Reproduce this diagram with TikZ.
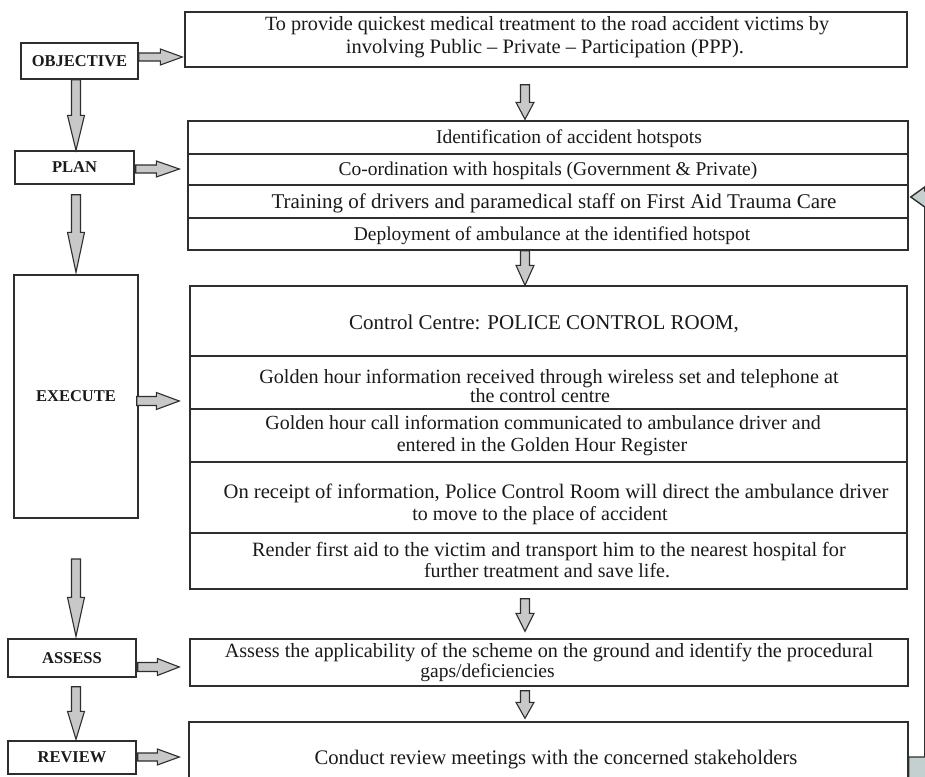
\documentclass[tikz,border=0pt]{standalone}
\usepackage{fontspec}
\setmainfont{Liberation Serif}
\usetikzlibrary{calc}

\definecolor{linec}{HTML}{2E2E2E}
\definecolor{inkc}{HTML}{1A1A1A}
\definecolor{arrowfill}{HTML}{C8C8C8}
\definecolor{loopfill}{HTML}{C4D0D0}

\tikzset{
  box/.style={draw=linec, line width=1.4pt, fill=white, inner sep=0pt, anchor=center},
  stage/.style={box, text=inkc, font=\fontsize{16.5}{18}\selectfont\bfseries},
  txt/.style={inner sep=0pt, anchor=base, text=inkc, font=\fontsize{#1}{24}\selectfont},
  txt/.default=20,
  rowline/.style={draw=linec, line width=1.2pt},
  % block arrow drawn from the start point to the target:
  % #1 = half shaft width, #2 = half head width, #3 = head length
  fat/.style n args={3}{draw=linec, line width=1.1pt, fill=arrowfill, line join=miter,
    to path={let \p1=(\tikztostart), \p2=(\tikztotarget),
      \n1={atan2(\y2-\y1,\x2-\x1)}, \n2={veclen(\x2-\x1,\y2-\y1)} in
      ([shift={(\p1)},rotate=\n1]0,#1)
      -- ([shift={(\p1)},rotate=\n1]{\n2-#3},#1)
      -- ([shift={(\p1)},rotate=\n1]{\n2-#3},#2)
      -- (\p2)
      -- ([shift={(\p1)},rotate=\n1]{\n2-#3},-#2)
      -- ([shift={(\p1)},rotate=\n1]{\n2-#3},-#1)
      -- ([shift={(\p1)},rotate=\n1]0,-#1) -- cycle}},
  loop/.style={draw=linec, line width=1.4pt, fill=loopfill, line join=miter},
}

\begin{document}
\begin{tikzpicture}[x=1pt, y=-1pt]
\useasboundingbox (0,0) rectangle (925,776);
\fill[white] (0,0) rectangle (925,776);
\clip (0,0) rectangle (925,776);

% stage labels on the left
\node[stage, minimum width=117pt, minimum height=36pt] (obj) at (79.5,61) {OBJECTIVE};
\node[stage, minimum width=119pt, minimum height=33pt] (plan) at (74.5,167.5) {PLAN};
\node[stage, minimum width=124pt, minimum height=243pt] (exec) at (76,396.5) {EXECUTE};
\node[stage, minimum width=128pt, minimum height=38pt] (assess) at (72,658) {ASSESS};
\node[stage, minimum width=128pt, minimum height=33pt] (review) at (72,757.5) {REVIEW};

% content boxes on the right
\node[box, minimum width=722pt, minimum height=55pt] (objbox) at (546,39.5) {};
\node[box, minimum width=720pt, minimum height=129pt] (planbox) at (548,185.5) {};
\node[box, minimum width=717pt, minimum height=303pt] (execbox) at (548.5,437.5) {};
\node[box, minimum width=718pt, minimum height=47pt] (assessbox) at (549,662.5) {};
\node[box, minimum width=719pt, minimum height=70pt] (revbox) at (548.5,757) {};

% rows of the plan box
\foreach \yy in {154,185,218}
  \draw[rowline] (planbox.west |- 0,\yy) -- (planbox.east |- 0,\yy);
% rows of the execute box
\foreach \yy in {356,409,462,533}
  \draw[rowline] (execbox.west |- 0,\yy) -- (execbox.east |- 0,\yy);

% texts
\node[txt=20.2] (o1) at (547,31) {To provide quickest medical treatment to the road accident victims by};
\node[txt=20.5] (o2) at (545,53) {involving Public – Private – Participation (PPP).};

\node[txt=19.5] (p1) at (569,143) {Identification of accident hotspots};
\node[txt=19.5] (p2) at (548,175) {Co-ordination with hospitals (Government \& Private)};
\node[txt=21] (p3) at (554,208) {Training of drivers and paramedical staff on First Aid Trauma Care};
\node[txt=19.5] (p4) at (552,240) {Deployment of ambulance at the identified hotspot};

\node[txt=21] (e1) at (544,329) {Control Centre: POLICE CONTROL ROOM,};
\node[txt=20.2] (e2a) at (549,383) {Golden hour information received through wireless set and telephone at};
\node[txt] (e2b) at (540,402) {the control centre};
\node[txt] (e3a) at (543,429) {Golden hour call information communicated to ambulance driver and};
\node[txt] (e3b) at (542,451) {entered in the Golden Hour Register};
\node[txt=20.6] (e4a) at (556,498) {On receipt of information, Police Control Room will direct the ambulance driver};
\node[txt] (e4b) at (540,520) {to move to the place of accident};
\node[txt=20.3] (e5a) at (549,556) {Render first aid to the victim and transport him to the nearest hospital for};
\node[txt] (e5b) at (547,577) {further treatment and save life.};

\node[txt=20.2] (a1) at (549,657) {Assess the applicability of the scheme on the ground and identify the procedural};
\node[txt=19.5] (a2) at (487.5,677) {gaps/deficiencies};

\node[txt=20.7] (r1) at (556,764) {Conduct review meetings with the concerned stakeholders};

% arrows down the stage column
\draw[fat={4.5}{8.5}{35}] (obj.south -| 76,0) to (plan.north -| 76,0);
\draw[fat={4.5}{8.5}{40}] ($(plan.south -| 76,0)+(0,10)$) to ($(exec.north -| 76,0)+(0,-2)$);
\draw[fat={4.5}{8.5}{39}] (76,559) to ($(assess.north -| 76,0)+(0,-2)$);
\draw[fat={4.5}{8.5}{28}] ($(assess.south -| 76,0)+(0,9)$) to ($(review.north -| 76,0)+(0,-1)$);

% arrows from each stage to its content
\draw[fat={4}{8}{22}] (obj.east |- 0,57) to ($(objbox.west |- 0,57)+(-2,0)$);
\draw[fat={4}{8}{23}] ($(plan.east |- 0,169)+(1,0)$) to ($(planbox.west |- 0,169)+(-8,0)$);
\draw[fat={4.5}{8.5}{23}] ($(exec.east |- 0,401)+(-2,0)$) to ($(execbox.west |- 0,401)+(-10,0)$);
\draw[fat={4.5}{8.5}{22}] ($(assess.east |- 0,667)+(1,0)$) to ($(assessbox.west |- 0,667)+(-10,0)$);
\draw[fat={4}{8}{22}] ($(review.east |- 0,757)+(1,0)$) to ($(revbox.west |- 0,757)+(-9,0)$);

% arrows between the content boxes
\draw[fat={4.5}{9}{17}] ($(objbox.south -| 525,0)+(0,17)$) to ($(planbox.north -| 525,0)+(0,-1)$);
\draw[fat={4.5}{9}{20}] (planbox.south -| 525,0) to (execbox.north -| 525,0);
\draw[fat={4.5}{9}{18}] ($(execbox.south -| 525,0)+(0,9)$) to ($(assessbox.north -| 525,0)+(0,-7)$);
\draw[fat={4.5}{9}{16}] ($(assessbox.south -| 525,0)+(0,4)$) to ($(revbox.north -| 525,0)+(0,-3)$);

% feedback from the review box back to the plan box
\coordinate (fbtip) at ($(planbox.east)+(2,11.5)$);
\draw[loop] (revbox.east) -- ($(revbox.east)+(16,0)$) -- ($(fbtip)+(14,10)$)
  -- (fbtip) -- ($(fbtip)+(14,-10)$) -- ($(fbtip)+(14,-6)$) -- ($(fbtip)+(40,-6)$)
  -- ($(revbox.east)+(40,40)$) -- ($(revbox.east)+(0,40)$) -- cycle;
\end{tikzpicture}
\end{document}
